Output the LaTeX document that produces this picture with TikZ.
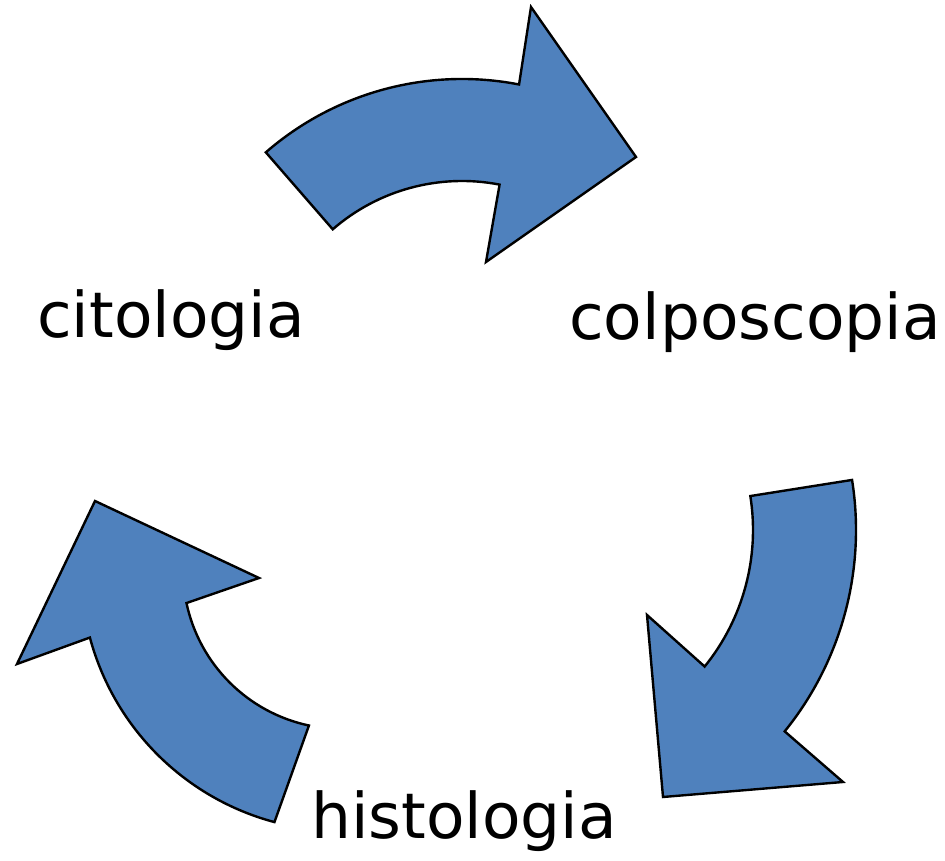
\documentclass[tikz,border=0pt]{standalone}
\usepackage{fontspec}
\setmainfont{DejaVu Sans}
\usetikzlibrary{calc}
\definecolor{arrowblue}{HTML}{4F81BD}
\tikzset{
  cyclearrow/.style={fill=arrowblue, draw=black, line width=2.4pt, line join=miter},
  cyclelabel/.style={font=\fontsize{63}{72}\selectfont, inner sep=0pt, anchor=base}
}
\begin{document}
\begin{tikzpicture}[x=1pt,y=1pt]
\useasboundingbox (0,0) rectangle (945,861);
% centres of the arcs
\coordinate (T) at (462,483);
\coordinate (R) at (536,331);
\coordinate (L) at (342,291);
% top arrow
\draw[cyclearrow] ($(T)+(131:299)$) arc[start angle=131, end angle=79, radius=299]
  -- (531,854) -- (636,704) -- (486,599)
  -- ($(T)+(79:197)$) arc[start angle=79, end angle=131, radius=197] -- cycle;
% right arrow
\draw[cyclearrow] ($(R)+(9:320)$) arc[start angle=9, end angle=-39, radius=320]
  -- (843,79) -- (663,64) -- (647,246)
  -- ($(R)+(-39:217)$) arc[start angle=-39, end angle=9, radius=217] -- cycle;
% left arrow
\draw[cyclearrow] ($(L)+(255:261)$) arc[start angle=255, end angle=195, radius=261]
  -- (17,197) -- (95,360) -- (259,283)
  -- ($(L)+(192:159)$) arc[start angle=192, end angle=258, radius=159] -- cycle;
% labels
\node[cyclelabel] (cito) at (171,523) {citologia};
\node[cyclelabel] (colpo) at (755,521) {colposcopia};
\node[cyclelabel] (histo) at (464,22) {histologia};
\end{tikzpicture}
\end{document}
